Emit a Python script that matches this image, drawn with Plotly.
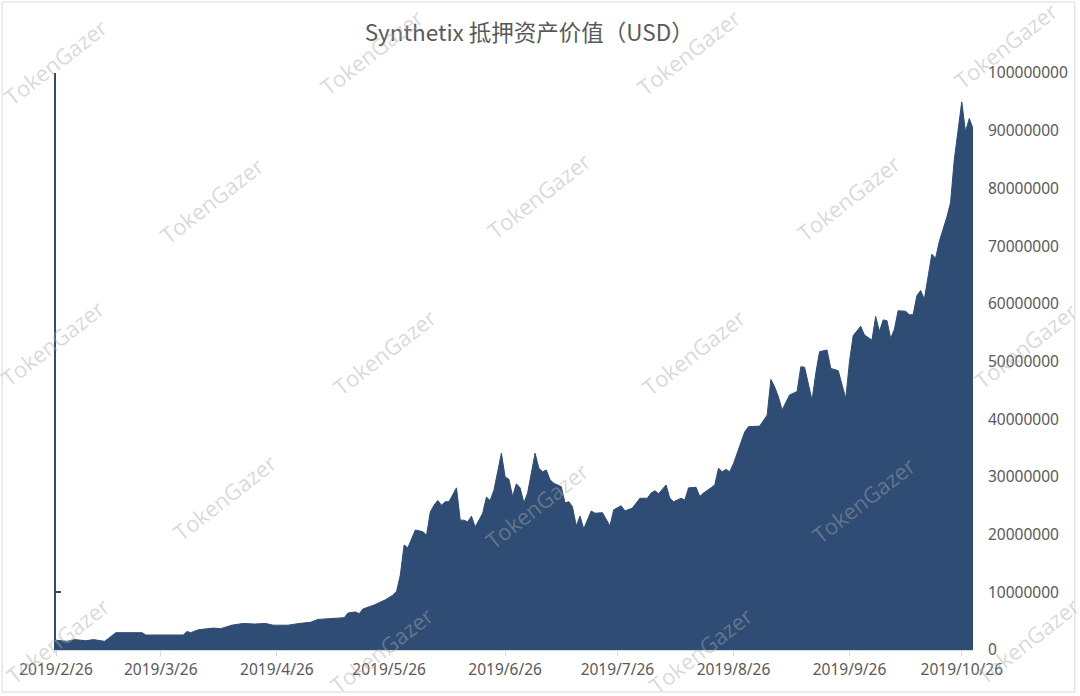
import plotly.graph_objects as go

# Collateral value (USD)
dates = [
    "2019-02-26", "2019-03-01", "2019-03-03", "2019-03-06", "2019-03-08", "2019-03-11",
    "2019-03-12", "2019-03-14", "2019-03-21", "2019-03-22", "2019-04-01", "2019-04-02",
    "2019-04-03", "2019-04-05", "2019-04-09", "2019-04-11", "2019-04-14", "2019-04-17",
    "2019-04-20", "2019-04-23", "2019-04-25", "2019-04-29", "2019-05-02", "2019-05-05",
    "2019-05-07", "2019-05-11", "2019-05-14", "2019-05-15", "2019-05-17", "2019-05-18",
    "2019-05-19", "2019-05-22", "2019-05-25", "2019-05-27", "2019-05-28", "2019-05-29",
    "2019-05-30", "2019-05-31", "2019-06-01", "2019-06-02", "2019-06-04", "2019-06-05",
    "2019-06-06", "2019-06-07", "2019-06-08", "2019-06-09", "2019-06-10", "2019-06-11",
    "2019-06-13", "2019-06-14", "2019-06-15", "2019-06-16", "2019-06-17", "2019-06-18",
    "2019-06-20", "2019-06-21", "2019-06-22", "2019-06-23", "2019-06-24", "2019-06-25",
    "2019-06-26", "2019-06-27", "2019-06-28", "2019-06-29", "2019-06-30", "2019-07-01",
    "2019-07-02", "2019-07-04", "2019-07-05", "2019-07-06", "2019-07-07", "2019-07-08",
    "2019-07-09", "2019-07-11", "2019-07-12", "2019-07-13", "2019-07-14", "2019-07-15",
    "2019-07-16", "2019-07-17", "2019-07-19", "2019-07-20", "2019-07-22", "2019-07-24",
    "2019-07-25", "2019-07-27", "2019-07-28", "2019-07-30", "2019-08-01", "2019-08-03",
    "2019-08-04", "2019-08-05", "2019-08-06", "2019-08-08", "2019-08-09", "2019-08-10",
    "2019-08-12", "2019-08-13", "2019-08-14", "2019-08-16", "2019-08-17", "2019-08-18",
    "2019-08-20", "2019-08-21", "2019-08-22", "2019-08-23", "2019-08-24", "2019-08-25",
    "2019-08-26", "2019-08-27", "2019-08-29", "2019-08-30", "2019-08-31", "2019-09-02",
    "2019-09-04", "2019-09-05", "2019-09-06", "2019-09-07", "2019-09-08", "2019-09-09",
    "2019-09-10", "2019-09-12", "2019-09-13", "2019-09-14", "2019-09-15", "2019-09-16",
    "2019-09-17", "2019-09-18", "2019-09-20", "2019-09-21", "2019-09-23", "2019-09-25",
    "2019-09-26", "2019-09-27", "2019-09-29", "2019-09-30", "2019-10-02", "2019-10-03",
    "2019-10-04", "2019-10-05", "2019-10-06", "2019-10-07", "2019-10-08", "2019-10-09",
    "2019-10-11", "2019-10-12", "2019-10-13", "2019-10-14", "2019-10-15", "2019-10-16",
    "2019-10-18", "2019-10-19", "2019-10-20", "2019-10-21", "2019-10-22", "2019-10-23",
    "2019-10-24", "2019-10-25", "2019-10-26", "2019-10-27", "2019-10-28", "2019-10-29",
]
values_musd = [
    1.7, 1.5, 1.8, 1.6, 1.8, 1.5,
    2.0, 3.0, 3.0, 2.6, 2.6, 3.2,
    3.0, 3.5, 3.8, 3.7, 4.3, 4.6,
    4.5, 4.6, 4.3, 4.3, 4.6, 4.8,
    5.3, 5.4, 5.6, 6.4, 6.6, 6.3,
    7.1, 7.8, 8.7, 9.5, 10.2, 13.0,
    18.2, 17.7, 19.4, 20.8, 20.5, 19.9,
    23.9, 25.1, 25.9, 25.1, 25.7, 25.7,
    28.1, 22.5, 22.5, 22.2, 23.2, 21.3,
    23.7, 26.5, 25.9, 27.7, 30.9, 34.1,
    30.0, 29.6, 26.6, 28.8, 28.1, 25.5,
    27.2, 34.1, 31.5, 30.9, 31.2, 29.5,
    28.9, 28.3, 25.5, 25.7, 24.8, 21.5,
    23.2, 21.0, 24.1, 23.7, 23.8, 21.5,
    24.3, 25.0, 24.1, 24.6, 26.3, 26.3,
    27.2, 27.6, 27.1, 28.6, 26.3, 25.7,
    26.3, 26.0, 28.1, 28.2, 26.6, 27.2,
    28.1, 28.6, 31.5, 30.9, 31.3, 30.9,
    32.3, 34.1, 37.8, 38.7, 38.7, 38.8,
    40.7, 46.9, 45.6, 43.9, 41.6, 43.0,
    44.2, 44.8, 49.1, 49.0, 46.2, 43.3,
    48.0, 51.7, 52.0, 48.8, 48.4, 43.6,
    50.0, 54.5, 56.1, 54.6, 53.7, 57.8,
    55.2, 57.2, 57.1, 54.0, 55.6, 58.8,
    58.7, 58.1, 58.1, 61.4, 62.3, 60.8,
    68.6, 67.9, 70.8, 72.8, 75.0, 77.5,
    85.0, 90.0, 95.0, 89.8, 92.1, 90.4,
]
values = [v * 1e6 for v in values_musd]

x_tick_dates = ["2019-02-26", "2019-03-26", "2019-04-26", "2019-05-26", "2019-06-26",
                "2019-07-26", "2019-08-26", "2019-09-26", "2019-10-26"]
x_tick_labels = ["2019/2/26", "2019/3/26", "2019/4/26", "2019/5/26", "2019/6/26",
                 "2019/7/26", "2019/8/26", "2019/9/26", "2019/10/26"]
y_ticks = [0, 10000000, 20000000, 30000000, 40000000, 50000000,
           60000000, 70000000, 80000000, 90000000, 100000000]
y_tick_labels = [str(v) for v in y_ticks]

title_text = "Synthetix 抵押资产价值（USD）"
watermark = "TokenGazer"

FILL = "#2E4C74"
TEXT = "#595959"
FONT = "Noto Sans, Noto Sans CJK SC, sans-serif"

fig = go.Figure()
fig.add_trace(go.Scatter(
    x=dates, y=values, mode="lines", fill="tozeroy",
    line=dict(color=FILL, width=1), fillcolor=FILL,
    hoverinfo="x+y", showlegend=False,
))
# invisible trace to activate left axis line
fig.add_trace(go.Scatter(x=[dates[0]], y=[0], yaxis="y2", mode="markers",
                         marker=dict(opacity=0), showlegend=False, hoverinfo="skip"))

fig.update_layout(
    width=1080, height=696,
    margin=dict(l=56, r=105, t=73, b=46),
    paper_bgcolor="white", plot_bgcolor="white",
    font=dict(family=FONT, color=TEXT, size=15.5),
    title=dict(text=title_text, x=0.49, xanchor="center", y=0.953, yanchor="middle",
               font=dict(family="Noto Sans CJK SC, sans-serif", size=22.5, color=TEXT)),
    xaxis=dict(
        type="date", range=["2019-02-26", "2019-10-29"],
        tickvals=x_tick_dates, ticktext=x_tick_labels,
        showgrid=False, zeroline=False,
        showline=True, linecolor="#D9D9D9", linewidth=1,
        ticks="outside", ticklen=5, tickcolor="#D9D9D9",
        tickfont=dict(size=15.5, color=TEXT),
    ),
    yaxis=dict(
        range=[0, 100000000], side="right",
        tickvals=y_ticks, ticktext=y_tick_labels,
        showgrid=False, zeroline=False, showline=False, ticks="",
        ticklabelstandoff=14,
        tickfont=dict(size=15.5, color=TEXT),
    ),
    yaxis2=dict(
        range=[0, 100000000], overlaying="y", side="left",
        showgrid=False, zeroline=False, showticklabels=False,
        showline=True, linecolor=FILL, linewidth=1.5,
        ticks="inside", ticklen=5, tickcolor=FILL, tickwidth=1.5,
        tickvals=[10000000, 100000000],
    ),
)

# chart-area border
fig.add_shape(type="rect", xref="paper", yref="paper",
              x0=(2 - 56) / 919, x1=(1077 - 56) / 919,
              y0=(650 - 692) / 577, y1=(650 - 2) / 577,
              line=dict(color="#D9D9D9", width=1), layer="below")

# watermark grid (pixel centers)
wm_px = [(55, 62), (372, 52), (690, 52), (1008, 45),
         (212, 200), (540, 195), (850, 198),
         (52, 343), (385, 352), (695, 352), (1028, 345),
         (225, 497), (538, 505), (865, 500),
         (58, 640), (382, 650), (702, 650), (1030, 640)]
for (px, py) in wm_px:
    fig.add_annotation(
        text=watermark, xref="paper", yref="paper",
        x=(px - 56) / 919, y=(650 - py) / 577, xanchor="center", yanchor="middle",
        showarrow=False, textangle=-38,
        font=dict(family="Open Sans, sans-serif", size=22, color="rgba(170,170,170,0.45)"),
    )

fig.write_html("out.html", config={"displayModeBar": False},
               post_script="document.body.style.margin='0';")
